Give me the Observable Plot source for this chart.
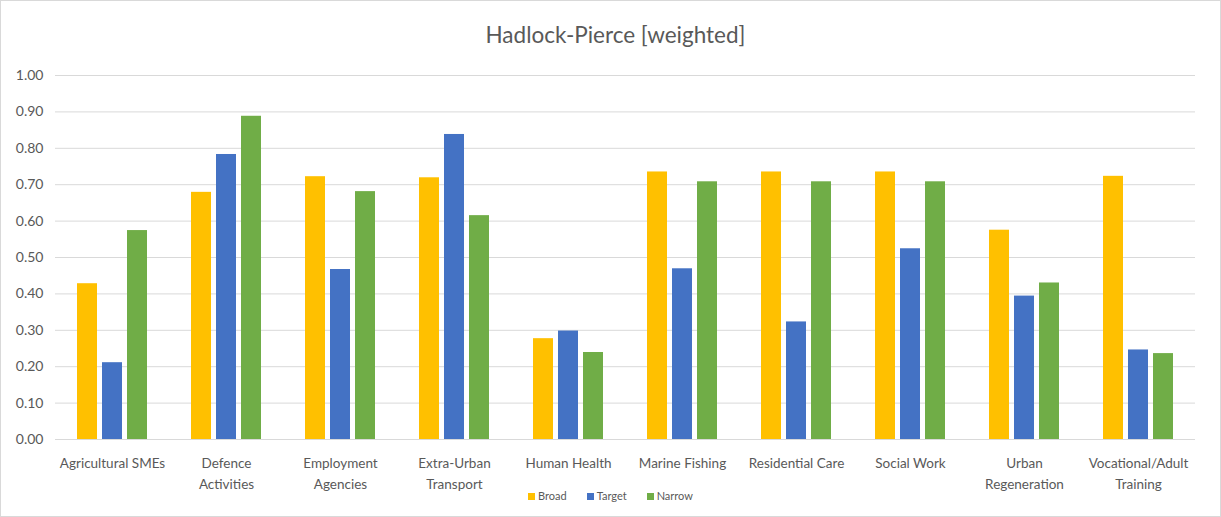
<!DOCTYPE html>
<html>
<head>
<meta charset="utf-8">
<script src="https://cdn.jsdelivr.net/npm/d3@7"></script>
<script src="https://cdn.jsdelivr.net/npm/@observablehq/plot@0.6"></script>
<style>
  html, body { margin: 0; padding: 0; background: #fff; }
  #chart {
    position: relative; width: 1219px; height: 515px;
    border: 1px solid #d9d9d9; background: #fff; overflow: hidden;
    font-family: Lato, "Open Sans", sans-serif; color: #595959;
  }
  #title {
    height: 60px; box-sizing: border-box; padding-top: 21px; padding-left: 10px;
    text-align: center; font-size: 22.5px; line-height: 26px; color: #595959;
  }
  #legend {
    position: absolute; left: 0; right: 0; top: 488px;
    display: flex; justify-content: center; gap: 20px;
    font-size: 11px; color: #595959; line-height: 14px;
  }
  #legend .item { display: flex; align-items: center; gap: 3px; }
  #legend .sw { width: 7px; height: 7px; display: inline-block; }
  #plot svg { display: block; }
</style>
</head>
<body>
<div id="chart">
  <div id="title">Hadlock-Pierce [weighted]</div>
  <div id="plot"></div>
  <div id="legend"></div>
</div>
<script>
const categories = ["Agricultural SMEs", "Defence Activities", "Employment Agencies", "Extra-Urban Transport", "Human Health", "Marine Fishing", "Residential Care", "Social Work", "Urban Regeneration", "Vocational/Adult Training"];
const categoryLabels = ["Agricultural SMEs", "Defence\nActivities", "Employment\nAgencies", "Extra-Urban\nTransport", "Human Health", "Marine Fishing", "Residential Care", "Social Work", "Urban\nRegeneration", "Vocational/Adult\nTraining"];
const series = ["Broad", "Target", "Narrow"];
const seriesColors = ["#FFC000", "#4472C4", "#70AD47"];
const broad  = [0.428, 0.679, 0.722, 0.719, 0.277, 0.735, 0.735, 0.735, 0.575, 0.723];
const target = [0.211, 0.783, 0.467, 0.838, 0.298, 0.469, 0.323, 0.524, 0.394, 0.246];
const narrow = [0.574, 0.888, 0.681, 0.615, 0.239, 0.708, 0.708, 0.708, 0.430, 0.236];
const yTicks = [0, 0.1, 0.2, 0.3, 0.4, 0.5, 0.6, 0.7, 0.8, 0.9, 1.0];

const valuesBySeries = {Broad: broad, Target: target, Narrow: narrow};
const data = [];
categories.forEach((c, i) => {
  series.forEach(s => data.push({category: c, series: s, value: valuesBySeries[s][i]}));
});
const labelMap = new Map(categories.map((c, i) => [c, categoryLabels[i]]));

const chart = Plot.plot({
  width: 1219,
  height: 440,
  marginTop: 14,
  marginBottom: 62,
  marginLeft: 53,
  marginRight: 25,
  style: {fontFamily: "Lato, 'Open Sans', sans-serif", fontSize: "14px", color: "#595959", background: "transparent"},
  fx: {domain: categories, padding: 0},
  x: {domain: series, paddingInner: 0.22, paddingOuter: 0.85, axis: null},
  y: {domain: [0, 1]},
  color: {domain: series, range: seriesColors},
  marks: [
    Plot.gridY(yTicks, {stroke: "#d9d9d9", strokeOpacity: 1, strokeWidth: 1}),
    Plot.axisY(yTicks, {tickSize: 0, tickPadding: 12, tickFormat: d3.format(".2f"), label: null, fontSize: 14}),
    Plot.axisFx({anchor: "bottom", tickSize: 0, tickPadding: 13, tickFormat: d => labelMap.get(d), label: null, fontSize: 13.5, lineHeight: 1.6}),
    Plot.barY(data, {fx: "category", x: "series", y: "value", fill: "series"})
  ]
});
document.getElementById("plot").appendChild(chart);

const legend = document.getElementById("legend");
series.forEach((s, i) => {
  const item = document.createElement("div");
  item.className = "item";
  const sw = document.createElement("span");
  sw.className = "sw";
  sw.style.background = seriesColors[i];
  const t = document.createElement("span");
  t.textContent = s;
  item.appendChild(sw);
  item.appendChild(t);
  legend.appendChild(item);
});
</script>
</body>
</html>
